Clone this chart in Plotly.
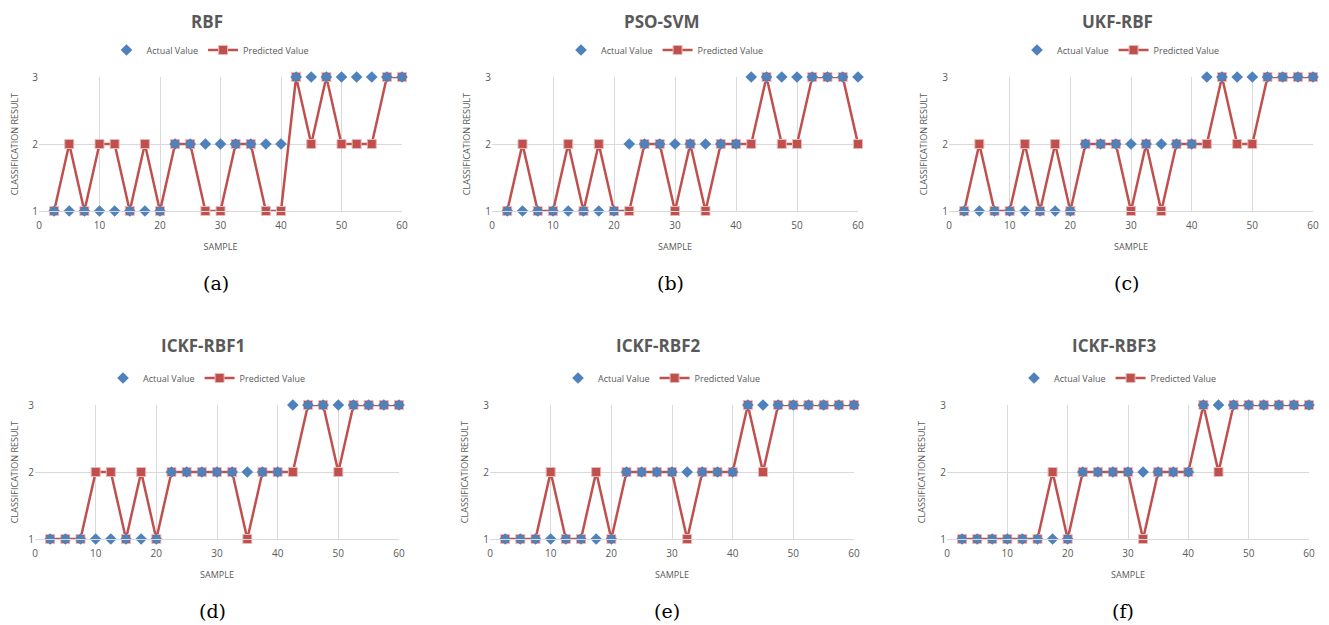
import plotly.graph_objects as go

samples = [2.5, 5, 7.5, 10, 12.5, 15, 17.5, 20, 22.5, 25, 27.5, 30,
           32.5, 35, 37.5, 40, 42.5, 45, 47.5, 50, 52.5, 55, 57.5, 60]
actual = [1]*8 + [2]*8 + [3]*8

titles = ["RBF", "PSO-SVM", "UKF-RBF", "ICKF-RBF1", "ICKF-RBF2", "ICKF-RBF3"]
captions = ["(a)", "(b)", "(c)", "(d)", "(e)", "(f)"]

pred_rbf = [1, 2, 1, 2, 2, 1, 2, 1, 2, 2, 1, 1, 2, 2, 1, 1, 3, 2, 3, 2, 2, 2, 3, 3]
pred_pso_svm = [1, 2, 1, 1, 2, 1, 2, 1, 1, 2, 2, 1, 2, 1, 2, 2, 2, 3, 2, 2, 3, 3, 3, 2]
pred_ukf_rbf = [1, 2, 1, 1, 2, 1, 2, 1, 2, 2, 2, 1, 2, 1, 2, 2, 2, 3, 2, 2, 3, 3, 3, 3]
pred_ickf1 = [1, 1, 1, 2, 2, 1, 2, 1, 2, 2, 2, 2, 2, 1, 2, 2, 2, 3, 3, 2, 3, 3, 3, 3]
pred_ickf2 = [1, 1, 1, 2, 1, 1, 2, 1, 2, 2, 2, 2, 1, 2, 2, 2, 3, 2, 3, 3, 3, 3, 3, 3]
pred_ickf3 = [1, 1, 1, 1, 1, 1, 2, 1, 2, 2, 2, 2, 1, 2, 2, 2, 3, 2, 3, 3, 3, 3, 3, 3]
predictions = [pred_rbf, pred_pso_svm, pred_ukf_rbf, pred_ickf1, pred_ickf2, pred_ickf3]

OFF = 8  # page body margin
W, H = 1329 - OFF, 625 - OFF
# plot-area pixel boxes in window pixels: (left, right, top, bottom)
boxes = [(39, 402, 77, 211), (492, 858, 77, 211), (949, 1313, 77, 211),
         (35, 399, 405, 539), (490, 854, 405, 539), (947, 1309, 405, 539)]

BLUE = "#4F81BD"
RED = "#C0504D"
GRAY = "#595959"
GRID = "#D9D9D9"
FONT = "Open Sans"


def fx(px):
    return (px - OFF) / W


def fy(py):
    return 1 - (py - OFF) / H


fig = go.Figure()
layout = {}
annotations = []

for i, (title, cap, pred, box) in enumerate(zip(titles, captions, predictions, boxes)):
    n = "" if i == 0 else str(i + 1)
    l, r, t, b = box
    leg = "legend" + n
    fig.add_trace(go.Scatter(
        x=samples, y=pred, mode="lines+markers", name="Predicted Value",
        line=dict(color=RED, width=2.5),
        marker=dict(symbol="square", size=9, color=RED, line=dict(color="#E6B9B8", width=1)),
        xaxis="x" + n, yaxis="y" + n, legend=leg, legendrank=2, cliponaxis=False))
    fig.add_trace(go.Scatter(
        x=samples, y=actual, mode="markers", name="Actual Value",
        marker=dict(symbol="diamond", size=9, color=BLUE),
        xaxis="x" + n, yaxis="y" + n, legend=leg, legendrank=1, cliponaxis=False))

    layout["xaxis" + n] = dict(
        domain=[fx(l), fx(r)], anchor="y" + n, range=[0, 60], tickvals=[0, 10, 20, 30, 40, 50, 60],
        showgrid=True, gridcolor=GRID, gridwidth=1, zeroline=False, automargin=False,
        showline=True, linecolor=GRID, linewidth=1, ticklabelstandoff=5,
        tickfont=dict(size=10, color=GRAY, family=FONT), ticks="",
        title=dict(text="SAMPLE", font=dict(size=9, color=GRAY, family=FONT), standoff=12))
    layout["yaxis" + n] = dict(
        domain=[fy(b), fy(t)], anchor="x" + n, range=[1, 3], tickvals=[1, 2, 3],
        showgrid=True, gridcolor=GRID, gridwidth=1, zeroline=False, showline=False,
        automargin=False,
        tickfont=dict(size=10, color=GRAY, family=FONT), ticks="",
        title=dict(text="CLASSIFICATION RESULT", font=dict(size=9, color=GRAY, family=FONT), standoff=13))
    cx = (l + r) / 2
    layout[leg] = dict(
        x=fx(cx - 10), y=fy(t - 27), xanchor="center", yanchor="middle",
        orientation="h", font=dict(size=9, color=GRAY, family=FONT),
        bgcolor="rgba(0,0,0,0)", itemwidth=30, traceorder="normal")
    annotations.append(dict(
        text="<b>" + title + "</b>", x=fx(cx - 14), y=fy(t - 73 if t > 100 else OFF),
        xref="paper", yref="paper",
        xanchor="center", yanchor="top", showarrow=False,
        font=dict(size=17, color=GRAY, family=FONT)))
    annotations.append(dict(
        text=cap, x=fx(cx - 5), y=fy(b + 72), xref="paper", yref="paper",
        xanchor="center", yanchor="middle", showarrow=False,
        font=dict(size=19, color="#000000", family="DejaVu Serif")))

fig.update_layout(
    width=W, height=H, margin=dict(l=0, r=0, t=0, b=0, autoexpand=False),
    paper_bgcolor="white", plot_bgcolor="white", showlegend=True,
    annotations=annotations, **layout)

fig.write_html("out.html")
